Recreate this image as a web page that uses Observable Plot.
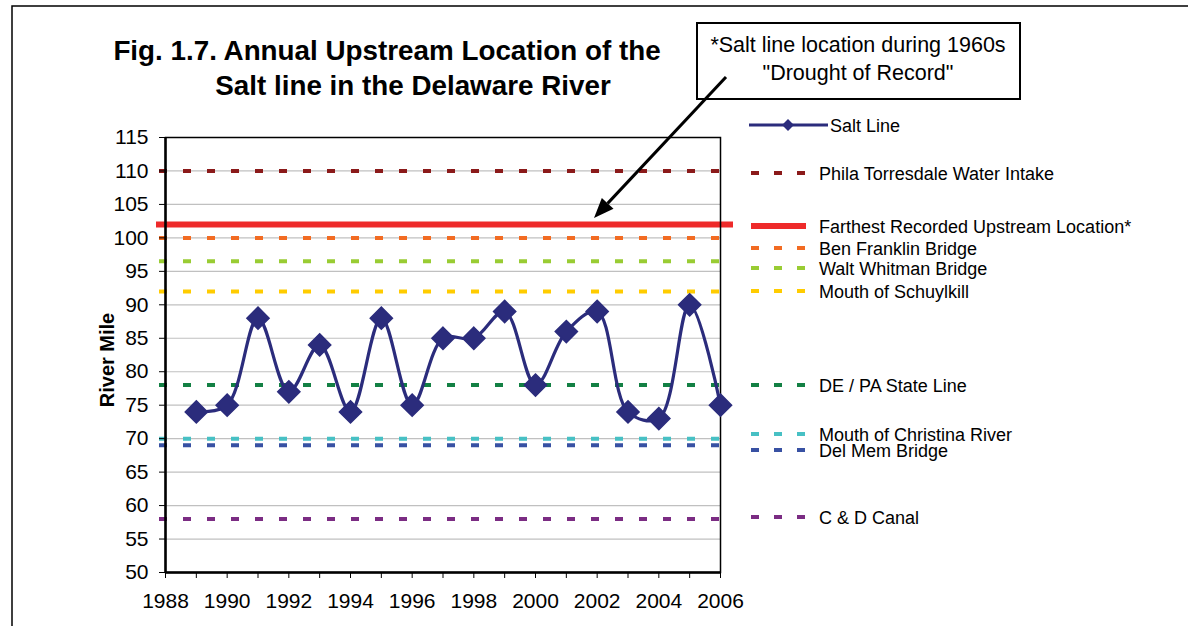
<!DOCTYPE html>
<html>
<head>
<meta charset="utf-8">
<script src="https://cdn.jsdelivr.net/npm/d3@7"></script>
<script src="https://cdn.jsdelivr.net/npm/@observablehq/plot@0.6"></script>
<style>
  html, body { margin: 0; padding: 0; background: #fff; }
  #chart svg { display: block; }
</style>
</head>
<body>
<div id="chart"></div>
<script>
// ---------- data ----------
const years = [1989, 1990, 1991, 1992, 1993, 1994, 1995, 1996, 1997, 1998, 1999, 2000, 2001, 2002, 2003, 2004, 2005, 2006];
const saltLine = [74, 75, 88, 77, 84, 74, 88, 75, 85, 85, 89, 78, 86, 89, 74, 73, 90, 75];

const refNames = ["Phila Torresdale Water Intake", "Farthest Recorded Upstream Location*", "Ben Franklin Bridge", "Walt Whitman Bridge", "Mouth of Schuylkill", "DE / PA State Line", "Mouth of Christina River", "Del Mem Bridge", "C & D Canal"];
const refValues = [110, 102, 100, 96.5, 92, 78, 70, 69, 58];
const refColors = ["#8b1a1a", "#ee2a2a", "#f26b22", "#99cc33", "#ffcc00", "#138044", "#47c0c4", "#3851a3", "#7b2c83"];
const refSolid = [false, true, false, false, false, false, false, false, false];

const yTicks = d3.range(50, 116, 5);
const xTicks = d3.range(1988, 2007, 1);

const titleLines = ["Fig. 1.7. Annual Upstream Location of the", "Salt line in the Delaware River"];
const noteLines = ["*Salt line location during 1960s", "\"Drought of Record\""];
const seriesName = "Salt Line";
const yLabel = "River Mile";

// layout (pixel positions of non-data decorations)
const legendRowY = [173, 226, 248, 268, 291, 385, 434, 450, 517];

// ---------- build ----------
const saltData = years.map((y, i) => ({year: y, mile: saltLine[i]}));
const refData = refNames.map((n, i) => ({name: n, value: refValues[i], color: refColors[i], solid: refSolid[i]}));
const navy = "#2b2c7c";

const W = 1188, H = 626;
const plot = Plot.plot({
  width: W,
  height: H,
  marginLeft: 165,
  marginRight: W - 720,
  marginTop: 137,
  marginBottom: H - 572,
  style: {fontFamily: "'Liberation Sans', Arial, sans-serif", fontSize: "21px", color: "#000", background: "#fff"},
  x: {domain: [1988, 2006]},
  y: {domain: [50, 115]},
  marks: [
    Plot.gridY(yTicks, {stroke: "#c0c0c0", strokeOpacity: 1, strokeWidth: 1.2}),
    Plot.ruleY(refData.filter(d => !d.solid), {y: "value", stroke: "color", strokeWidth: 4, strokeDasharray: "8,16", insetLeft: -6, insetRight: -2}),
    Plot.ruleY(refData.filter(d => d.solid), {y: "value", stroke: "color", strokeWidth: 6, insetLeft: -9, insetRight: -13}),
    Plot.frame({stroke: "#000", strokeWidth: 1.5}),
    Plot.ruleX([1988], {stroke: "#000", strokeWidth: 2.5}),
    Plot.ruleY([50], {stroke: "#000", strokeWidth: 2.5}),
    Plot.line(saltData, {x: "year", y: "mile", curve: "catmull-rom", stroke: navy, strokeWidth: 3.2}),
    Plot.dot(saltData, {x: "year", y: "mile", symbol: "diamond2", r: 10, fill: navy, stroke: navy}),
    Plot.axisY(yTicks, {tickSize: 6, tickPadding: 11, label: null, fontSize: 21, stroke: "#000"}),
    Plot.axisX(xTicks, {tickSize: 6, tickPadding: 15, label: null, fontSize: 21, stroke: "#000",
      tickFormat: d => (d % 2 === 0 ? String(d) : "")})
  ]
});
document.getElementById("chart").appendChild(plot);

// ---------- decorations ----------
const svg = d3.select(plot);
const font = "'Liberation Sans', Arial, sans-serif";

// page frame
svg.append("path").attr("d", `M12,${H} L12,6 L${W},6`).attr("fill", "none").attr("stroke", "#000").attr("stroke-width", 1.5);

// title
const titleCx = [387, 413];
const titleY = [60, 95];
titleLines.forEach((t, i) => {
  svg.append("text").attr("x", titleCx[i]).attr("y", titleY[i]).attr("text-anchor", "middle")
    .attr("font-family", font).attr("font-weight", "bold").attr("font-size", 27.8).attr("fill", "#000").text(t);
});

// y label
svg.append("text").attr("transform", "translate(114,360) rotate(-90)").attr("text-anchor", "middle")
  .attr("font-family", font).attr("font-weight", "bold").attr("font-size", 20).attr("fill", "#000").text(yLabel);

// annotation box
svg.append("rect").attr("x", 697).attr("y", 23).attr("width", 323).attr("height", 76)
  .attr("fill", "#fff").attr("stroke", "#000").attr("stroke-width", 2);
const noteY = [52, 80];
noteLines.forEach((t, i) => {
  svg.append("text").attr("x", 858).attr("y", noteY[i]).attr("text-anchor", "middle")
    .attr("font-family", font).attr("font-size", 21.5).attr("fill", "#000").text(t);
});

// arrow
const ax0 = 726, ay0 = 77, ax1 = 594, ay1 = 218;
const ang = Math.atan2(ay1 - ay0, ax1 - ax0);
const hl = 20, hw = 8;
const bx = ax1 - hl * Math.cos(ang), by = ay1 - hl * Math.sin(ang);
svg.append("line").attr("x1", ax0).attr("y1", ay0).attr("x2", bx).attr("y2", by)
  .attr("stroke", "#000").attr("stroke-width", 3);
svg.append("polygon").attr("points", [
  [ax1, ay1],
  [bx + hw * Math.sin(ang), by - hw * Math.cos(ang)],
  [bx - hw * Math.sin(ang), by + hw * Math.cos(ang)]
].map(p => p.join(",")).join(" ")).attr("fill", "#000");

// legend: series
svg.append("line").attr("x1", 749).attr("x2", 828).attr("y1", 125).attr("y2", 125).attr("stroke", navy).attr("stroke-width", 3.2);
svg.append("path").attr("d", d3.symbol(d3.symbolDiamond2, 90)()).attr("transform", "translate(788,125)").attr("fill", navy);
svg.append("text").attr("x", 830).attr("y", 132).attr("text-anchor", "start").attr("font-family", font).attr("font-size", 18).attr("fill", "#000").text(seriesName);

// legend: reference lines
refData.forEach((d, i) => {
  const y = legendRowY[i];
  svg.append("line").attr("x1", 751).attr("x2", 806).attr("y1", y).attr("y2", y)
    .attr("stroke", d.color).attr("stroke-width", d.solid ? 6 : 4)
    .attr("stroke-dasharray", d.solid ? null : "8,15");
  svg.append("text").attr("x", 819).attr("y", y + 6.5).attr("text-anchor", "start").attr("font-family", font).attr("font-size", 18)
    .attr("fill", "#000").text(d.name);
});
</script>
</body>
</html>
